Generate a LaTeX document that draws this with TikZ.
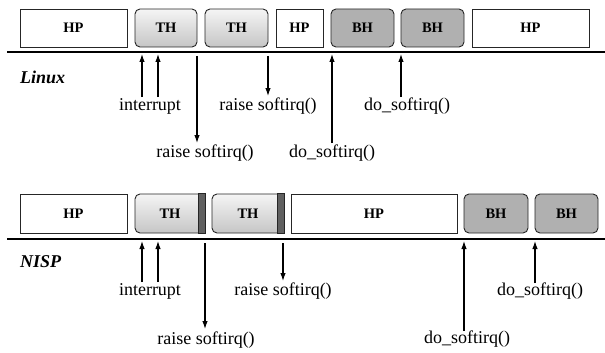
\documentclass[tikz,border=0pt]{standalone}
\usepackage{fontspec}
\setmainfont{Liberation Serif}
\usetikzlibrary{arrows.meta,calc}
\begin{document}
\begin{tikzpicture}[x=1pt,y=-1pt,
 box/.style={draw=black!85, line width=0.9pt, inner sep=0, font=\fontsize{14.5}{14.5}\selectfont\bfseries},
 hp/.style={box, fill=white},
 th/.style={box, rounded corners=5pt, top color=gray!8, bottom color=gray!45},
 bh/.style={box, rounded corners=5pt, fill=gray!62},
 strip/.style={draw=black!85, line width=0.9pt, fill=gray!75!black},
 tl/.style={line width=2.8pt},
 arr/.style={line width=1.1pt, -{Latex[length=8pt,width=5.5pt]}},
 lbl/.style={font=\fontsize{18}{18}\selectfont, inner sep=0},
 os/.style={font=\fontsize{18}{18}\selectfont\bfseries\itshape, inner sep=0, anchor=west}]
\useasboundingbox (0,0) rectangle (605,353);

% ---------- Linux ----------
\node[hp, minimum width=107pt, minimum height=38pt] (l1) at (73.5,28) {HP};
\node[th, minimum width=62pt, minimum height=38pt] (l2) at (166,28) {TH};
\node[th, minimum width=63pt, minimum height=38pt] (l3) at (236.5,28) {TH};
\node[hp, minimum width=47pt, minimum height=38pt] (l4) at (299.5,28) {HP};
\node[bh, minimum width=63pt, minimum height=38pt] (l5) at (362.5,28) {BH};
\node[bh, minimum width=63pt, minimum height=38pt] (l6) at (432.5,28) {BH};
\node[hp, minimum width=117pt, minimum height=38pt] (l7) at (530.5,28) {HP};

\coordinate (lts) at (7,52);
\coordinate (lte) at (605,52);
\draw[tl] (lts) -- (lte);
\node[os] (linux) at (20,77) {Linux};

\node[lbl] (li) at (150,106) {interrupt};
\node[lbl] (lr1) at (205,153) {raise softirq()};
\node[lbl] (lr2) at (268,106) {raise softirq()};
\node[lbl] (ld1) at (332,153) {do\_softirq()};
\node[lbl] (ld2) at (407,106) {do\_softirq()};

\coordinate (la1s) at (142,97); \coordinate (la1e) at (142,54);
\coordinate (la2s) at (158,97); \coordinate (la2e) at (158,54);
\coordinate (la3s) at (197,56); \coordinate (la3e) at (197,143);
\coordinate (la4s) at (268,56); \coordinate (la4e) at (268,96);
\coordinate (la5s) at (332,143); \coordinate (la5e) at (332,54);
\coordinate (la6s) at (401,97); \coordinate (la6e) at (401,54);
\draw[arr] (la1s) -- (la1e);
\draw[arr] (la2s) -- (la2e);
\draw[arr] (la3s) -- (la3e);
\draw[arr] (la4s) -- (la4e);
\draw[arr] (la5s) -- (la5e);
\draw[arr] (la6s) -- (la6e);

% ---------- NISP ----------
\node[hp, minimum width=107pt, minimum height=39pt] (n1) at (73.5,213.5) {HP};
\node[th, minimum width=70pt, minimum height=39pt] (n2) at (170,213.5) {TH};
\draw[strip] ($(n2.north east)+(-7,0)$) rectangle (n2.south east);
\node[th, minimum width=72pt, minimum height=39pt] (n3) at (248,213.5) {TH};
\draw[strip] ($(n3.north east)+(-7,0)$) rectangle (n3.south east);
\node[hp, minimum width=166pt, minimum height=39pt] (n4) at (374,213.5) {HP};
\node[bh, minimum width=64pt, minimum height=39pt] (n5) at (496,213.5) {BH};
\node[bh, minimum width=63pt, minimum height=39pt] (n6) at (566.5,213.5) {BH};

\coordinate (nts) at (7,239);
\coordinate (nte) at (605,239);
\draw[tl] (nts) -- (nte);
\node[os] (nisp) at (20,262) {NISP};

\node[lbl] (ni) at (150,291) {interrupt};
\node[lbl] (nr1) at (206,340) {raise softirq()};
\node[lbl] (nr2) at (283,291) {raise softirq()};
\node[lbl] (nd1) at (467,339) {do\_softirq()};
\node[lbl] (nd2) at (540,291) {do\_softirq()};

\coordinate (na1s) at (142,282); \coordinate (na1e) at (142,241);
\coordinate (na2s) at (158,282); \coordinate (na2e) at (158,241);
\coordinate (na3s) at (205,243); \coordinate (na3e) at (205,329);
\coordinate (na4s) at (283,243); \coordinate (na4e) at (283,281);
\coordinate (na5s) at (464,331); \coordinate (na5e) at (464,241);
\coordinate (na6s) at (535,283); \coordinate (na6e) at (535,241);
\draw[arr] (na1s) -- (na1e);
\draw[arr] (na2s) -- (na2e);
\draw[arr] (na3s) -- (na3e);
\draw[arr] (na4s) -- (na4e);
\draw[arr] (na5s) -- (na5e);
\draw[arr] (na6s) -- (na6e);
\end{tikzpicture}
\end{document}
